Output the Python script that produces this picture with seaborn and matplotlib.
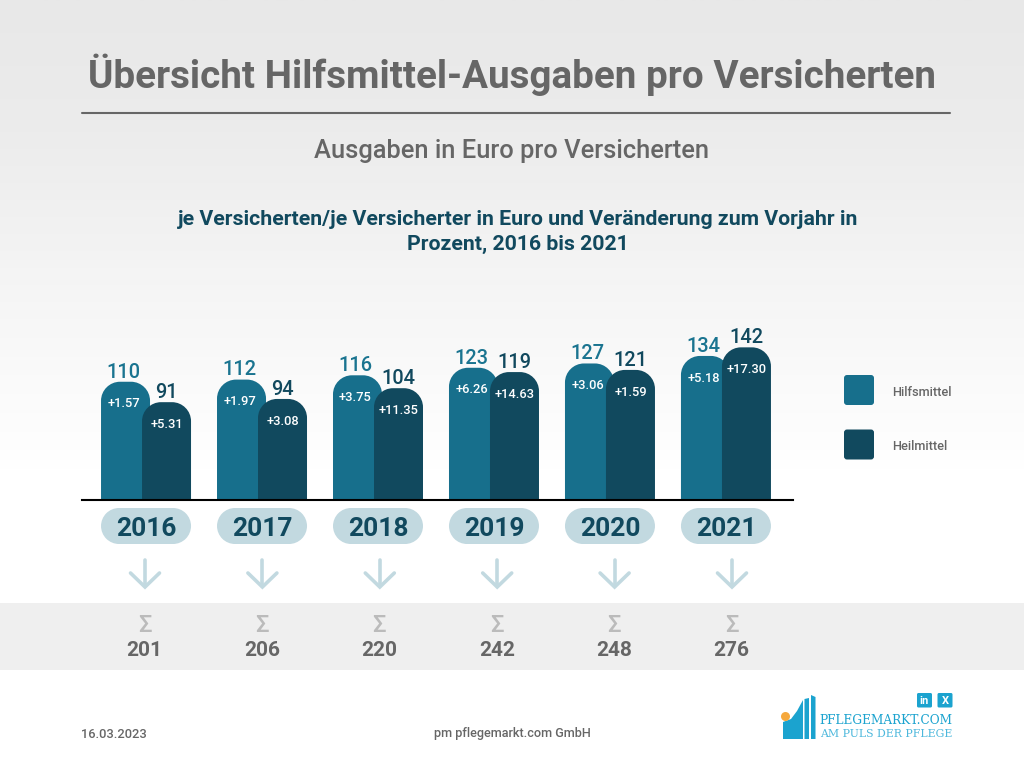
import numpy as np
import pandas as pd
import matplotlib
matplotlib.use('Agg')
import matplotlib.pyplot as plt
import seaborn as sns
from matplotlib.patches import FancyBboxPatch, PathPatch, Circle, Polygon, Rectangle
from matplotlib.path import Path
from matplotlib.colors import LinearSegmentedColormap

years = ['2016', '2017', '2018', '2019', '2020', '2021']
hilfsmittel = [110, 112, 116, 123, 127, 134]
heilmittel = [91, 94, 104, 119, 121, 142]
change_hilfs = ['+1.57', '+1.97', '+3.75', '+6.26', '+3.06', '+5.18']
change_heil = ['+5.31', '+3.08', '+11.35', '+14.63', '+1.59', '+17.30']
totals = [201, 206, 220, 242, 248, 276]

C_HILF = '#176f8c'
C_HEIL = '#11495e'
C_PILL = '#c2d9e0'
C_GREY = '#666666'

sns.set_theme(style='white')
plt.rcParams['font.family'] = ['Roboto', 'DejaVu Sans']

fig = plt.figure(figsize=(10.24, 7.68), dpi=100)

# background layer, in pixel coordinates of the picture
bg = fig.add_axes([0, 0, 1, 1], zorder=0)
bg.set_xlim(0, 1024)
bg.set_ylim(768, 0)
bg.axis('off')
cmap = LinearSegmentedColormap.from_list('bg', [(0, '#e8e8e8'), (0.28, '#ececec'), (0.68, '#f7f7f7'), (1, '#ffffff')])
grad = np.linspace(0, 1, 256).reshape(-1, 1)
bg.imshow(grad, cmap=cmap, extent=[0, 1024, 470, 0], aspect='auto', zorder=0)
bg.set_xlim(0, 1024)
bg.set_ylim(768, 0)
bg.fill_between([0, 1024], 603, 670, color='#efefef', lw=0, zorder=1)

# header
bg.text(512, 75, 'Übersicht Hilfsmittel-Ausgaben pro Versicherten', ha='center', va='center',
        fontsize=27.8, fontweight='bold', color=C_GREY)
bg.plot([82, 950], [113, 113], color=C_GREY, lw=1.5)
bg.text(512, 151, 'Ausgaben in Euro pro Versicherten', ha='center', va='center',
        fontsize=18.4, fontweight='medium', color=C_GREY)
bg.text(518, 232, 'je Versicherten/je Versicherter in Euro und Veränderung zum Vorjahr in\nProzent, 2016 bis 2021',
        ha='center', va='center', fontsize=15.3, fontweight='bold', color=C_HEIL, linespacing=1.42)

# bars
df = pd.DataFrame({'Jahr': years, 'Hilfsmittel': hilfsmittel, 'Heilmittel': heilmittel})
df = df.melt(id_vars='Jahr', var_name='Art', value_name='Euro')

ax = fig.add_axes([82 / 1024, 1 - 500 / 768, (793 - 82) / 1024, 180 / 768], zorder=2)
ax.patch.set_alpha(0)
sns.barplot(data=df, x='Jahr', y='Euro', hue='Art', order=years,
            palette={'Hilfsmittel': C_HILF, 'Heilmittel': C_HEIL},
            width=0.776, saturation=1, legend=False, ax=ax)
ax.set_xlim(-0.552, 5.578)
ax.set_ylim(0, 180 / 1.075)
ax.set_xlabel('')
ax.set_ylabel('')
ax.set_xticks([])
ax.set_yticks([])
sns.despine(ax=ax, left=True, top=True, right=True)
ax.spines['bottom'].set_color('black')
ax.spines['bottom'].set_linewidth(1.5)

# seaborn bars get a rounded top and a small overlap
px_x = 711 / (5.578 + 0.552)
px_y = 1.075
bar_w = 49 / px_x
radius = 19
bars = list(ax.patches)
for b in bars:
    mid = b.get_x() + b.get_width() / 2
    shift = 4 / px_x if mid > round(mid) else -4 / px_x
    x0 = mid - bar_w / 2 - shift * 0.5
    x1 = x0 + bar_w
    top_y = b.get_height()
    rx, ry = radius / px_x, radius / px_y
    k = 0.55
    path = Path([(x0, 0), (x0, top_y - ry),
                 (x0, top_y - ry + k * ry), (x0 + rx - k * rx, top_y), (x0 + rx, top_y),
                 (x1 - rx, top_y),
                 (x1 - rx + k * rx, top_y), (x1, top_y - ry + k * ry), (x1, top_y - ry),
                 (x1, 0), (x0, 0)],
                [Path.MOVETO, Path.LINETO,
                 Path.CURVE4, Path.CURVE4, Path.CURVE4,
                 Path.LINETO,
                 Path.CURVE4, Path.CURVE4, Path.CURVE4,
                 Path.LINETO, Path.CLOSEPOLY])
    ax.add_patch(PathPatch(path, facecolor=b.get_facecolor(), edgecolor='none', zorder=2))
    b.set_visible(False)

n = len(years)
for i in range(n):
    for b, val, chg, col, dx in [(bars[i], hilfsmittel[i], change_hilfs[i], '#1a7490', 0),
                                 (bars[i + n], heilmittel[i], change_heil[i], C_HEIL, -2)]:
        mid = b.get_x() + b.get_width() / 2
        ax.annotate(str(val), (mid, val), xytext=(dx * 0.72, 7), textcoords='offset points',
                    ha='center', va='center', fontsize=14.4, fontweight='medium', color=col, zorder=4)
        ax.annotate(chg, (mid, val), xytext=(dx * 0.72, -16), textcoords='offset points',
                    ha='center', va='center', fontsize=9.3, fontweight='medium', color='white', zorder=4)

# pixel positions of the year groups, taken from the bar axis
fig.canvas.draw()
group_x = [ax.transData.transform((i, 0))[0] for i in range(n)]

top = fig.add_axes([0, 0, 1, 1], zorder=3)
top.set_xlim(0, 1024)
top.set_ylim(768, 0)
top.axis('off')
for x, y in zip(group_x, years):
    top.add_patch(Rectangle((x - 27, 508), 54, 36, facecolor=C_PILL, edgecolor='none'))
    top.add_patch(Circle((x - 27, 526), 18, facecolor=C_PILL, edgecolor='none'))
    top.add_patch(Circle((x + 27, 526), 18, facecolor=C_PILL, edgecolor='none'))
    top.text(x, 529, y, ha='center', va='center', fontsize=19, fontweight='bold', color=C_HEIL)

# arrows and totals
sum_x = np.linspace(144.5, 731.5, n)
for x, t in zip(sum_x, totals):
    top.plot([x + 0.5, x + 0.5], [560, 586], color=C_PILL, lw=2.6, solid_capstyle='round')
    top.plot([x - 14, x + 0.5, x + 15], [573, 587, 573], color=C_PILL, lw=2.6,
             solid_capstyle='round', solid_joinstyle='miter')
    top.text(x, 625.5, 'Σ', ha='center', va='center', fontsize=17, fontweight='medium', color='#bbbbbb')
    top.text(x, 651, str(t), ha='center', va='center', fontsize=15, fontweight='bold', color=C_GREY)

# legend
for y, col, name in [(375, C_HILF, 'Hilfsmittel'), (429.5, C_HEIL, 'Heilmittel')]:
    top.add_patch(FancyBboxPatch((846, y + 2), 26, 26, boxstyle='round,pad=2,rounding_size=3',
                                 facecolor=col, edgecolor='none'))
    top.text(892.5, y + 17, name, ha='left', va='center', fontsize=9.2, fontweight='medium', color=C_GREY)

# footer
top.text(81, 734, '16.03.2023', ha='left', va='center', fontsize=9.3, fontweight='medium', color=C_GREY)
top.text(512, 734, 'pm pflegemarkt.com GmbH', ha='center', va='center', fontsize=9.1, fontweight='medium', color=C_GREY)

# logo
C_LOGO = '#1ba3cf'
top.add_patch(Polygon([(783, 739), (783, 722), (791, 719), (797, 711), (803, 700), (803, 739)],
                      facecolor=C_LOGO, edgecolor='none'))
top.add_patch(Polygon([(804.5, 699), (809, 698), (809, 739), (804.5, 739)], facecolor=C_LOGO, edgecolor='none'))
top.add_patch(Polygon([(811, 695), (815.5, 697), (815.5, 739), (811, 739)], facecolor=C_LOGO, edgecolor='none'))
top.add_patch(Circle((785.5, 716.5), 4.5, facecolor='#f5a83c', edgecolor='none'))
top.text(952, 720.5, 'PFLEGEMARKT.COM', ha='right', va='center', fontsize=8.7,
         family='DejaVu Serif', color=C_LOGO)
top.text(952, 734, 'AM PULS DER PFLEGE', ha='right', va='center', fontsize=7.8,
         family='DejaVu Serif', color='#4db8dc')
for x, s in [(917, 'in'), (937.5, 'X')]:
    top.add_patch(FancyBboxPatch((x + 1, 694), 13, 12.5, boxstyle='round,pad=1,rounding_size=1.5',
                                 facecolor=C_LOGO, edgecolor='none'))
    top.text(x + 7.5, 700.5, s, ha='center', va='center', fontsize=8, fontweight='bold', color='white')

plt.savefig('out.png', dpi=100)
